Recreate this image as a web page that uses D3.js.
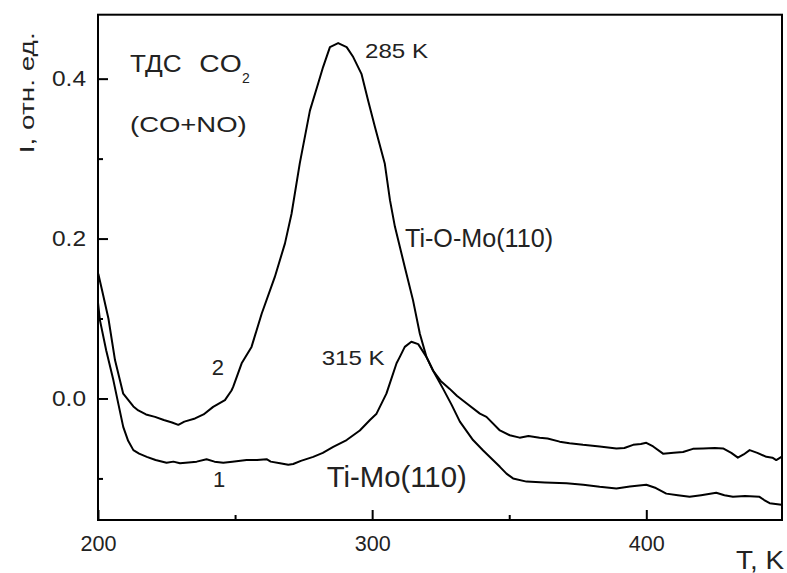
<!DOCTYPE html>
<html>
<head>
<meta charset="utf-8">
<script src="https://cdn.jsdelivr.net/npm/d3@7"></script>
<style>
  body { margin: 0; background: #fff; }
  svg { display: block; font-family: "Liberation Sans", Arial, sans-serif; }
  .lbl { fill: #222; }
</style>
</head>
<body>
<svg id="chart" width="787" height="573"></svg>
<script>
// Curve 2: Ti-O-Mo(110)
const tempsTiOMo = [200.1, 201.5, 203.8, 206.2, 209.2, 212.9, 214.7, 217.5, 220.8, 224.0, 227.0, 229.3, 231.5,
    235.4, 238.5, 242.0, 246.3, 248.7, 249.3, 252.4, 256.0, 259.7, 264.5, 268.2, 270.6, 273.6, 277.3, 280.3,
    282.1, 284.6, 287.6, 290.7, 293.1, 296.1, 298.5, 301.0, 304.6, 306.5, 308.3, 311.9, 314.9, 317.4, 319.8,
    322.2, 325.0, 328.3, 331.0, 334.4, 339.3, 341.7, 346.6, 350.2, 353.8, 357.0, 361.1, 364.0, 368.4, 372.0,
    376.9, 383.0, 389.1, 392.0, 395.2, 398.0, 400.0, 402.5, 406.1, 410.0, 413.4, 417.0, 420.7, 425.0, 428.0,
    431.0, 433.4, 435.5, 437.7, 440.5, 443.8, 446.0, 447.4, 449.3];
const valsTiOMo = [0.156, 0.135, 0.100, 0.048, 0.006, -0.010, -0.015, -0.020, -0.023, -0.027, -0.030, -0.033, -0.029,
    -0.025, -0.020, -0.0105, -0.002, 0.010, 0.0145, 0.044, 0.0645, 0.106, 0.152, 0.194, 0.231, 0.294, 0.360, 0.394,
    0.4145, 0.4395, 0.4445, 0.4395, 0.427, 0.406, 0.373, 0.340, 0.294, 0.248, 0.215, 0.1645, 0.123, 0.081, 0.052,
    0.035, 0.022, 0.012, 0.003, -0.006, -0.019, -0.023, -0.040, -0.046, -0.049, -0.047, -0.049, -0.050, -0.054, -0.056,
    -0.058, -0.060, -0.0625, -0.062, -0.058, -0.057, -0.0555, -0.060, -0.069, -0.068, -0.067, -0.063, -0.0625, -0.062, -0.0625,
    -0.068, -0.074, -0.070, -0.0646, -0.068, -0.073, -0.074, -0.077, -0.073];

// Curve 1: Ti-Mo(110)
const tempsTiMo = [200.0, 200.7, 203.0, 205.6, 207.5, 209.2, 211.0, 212.9, 215.0, 217.8, 221.0, 225.0, 227.5,
    229.9, 233.0, 236.0, 239.6, 242.5, 245.7, 249.0, 254.2, 258.0, 261.5, 263.0, 266.4, 269.4, 271.2, 274.0,
    278.5, 282.0, 285.8, 290.7, 295.5, 299.2, 301.6, 305.2, 308.9, 310.1, 311.9, 314.3, 316.8, 319.8, 322.5,
    325.9, 329.0, 332.0, 336.8, 340.5, 343.5, 346.6, 349.0, 351.4, 356.3, 363.0, 370.9, 377.0, 383.0, 389.1,
    394.0, 400.0, 403.5, 407.3, 411.5, 415.8, 420.0, 425.5, 428.5, 431.6, 436.0, 441.3, 443.0, 445.0, 449.3];
const valsTiMo = [0.120, 0.098, 0.060, 0.023, -0.008, -0.0355, -0.053, -0.0646, -0.069, -0.073, -0.077, -0.0805, -0.079,
    -0.081, -0.080, -0.079, -0.076, -0.079, -0.0805, -0.079, -0.077, -0.077, -0.076, -0.079, -0.081, -0.083, -0.082, -0.078,
    -0.073, -0.068, -0.0605, -0.052, -0.040, -0.027, -0.019, 0.006, 0.044, 0.052, 0.0645, 0.071, 0.068, 0.052, 0.033,
    0.012, -0.008, -0.029, -0.052, -0.065, -0.075, -0.0855, -0.094, -0.100, -0.104, -0.105, -0.106, -0.108, -0.1105, -0.1125,
    -0.110, -0.108, -0.112, -0.119, -0.121, -0.123, -0.121, -0.118, -0.121, -0.123, -0.122, -0.123, -0.127, -0.131, -0.133];

const xMajor = [200, 300, 400];
const xMinor = [250, 350];
const yMajor = [0.0, 0.2, 0.4];
const yMinor = [-0.1, 0.1, 0.3];

const svg = d3.select('#chart');
const m = { left: 98, right: 782, top: 14.7, bottom: 520 };

const x = d3.scaleLinear().domain([200, 449.5]).range([m.left, m.right]);
const y = d3.scaleLinear().domain([-0.152, 0.48]).range([m.bottom, m.top]);

svg.append('clipPath').attr('id', 'plot')
    .append('rect')
    .attr('x', m.left).attr('y', m.top)
    .attr('width', m.right - m.left).attr('height', m.bottom - m.top);

const line = d3.line().x(d => x(d[0])).y(d => y(d[1]));

const series = [
    d3.zip(tempsTiOMo, valsTiOMo),
    d3.zip(tempsTiMo, valsTiMo),
];

svg.append('g').attr('clip-path', 'url(#plot)')
    .selectAll('path')
    .data(series)
    .join('path')
    .attr('d', line)
    .attr('fill', 'none')
    .attr('stroke', '#000')
    .attr('stroke-width', 2)
    .attr('stroke-linejoin', 'round');

// Axes: ticks pointing inward
function styleAxis(g) {
    g.select('.domain').remove();
    g.selectAll('line').attr('stroke', '#000').attr('stroke-width', 2);
    g.selectAll('text').attr('class', 'lbl').attr('font-size', 22)
        .attr('font-family', '"Liberation Sans", Arial, sans-serif')
        .attr('textLength', function () { return this.textContent.length * 12; })
        .attr('lengthAdjust', 'spacingAndGlyphs');
}

svg.append('g').attr('transform', `translate(0,${m.bottom})`)
    .call(d3.axisBottom(x).tickValues(xMajor).tickSize(-10).tickSizeOuter(0).tickPadding(15).tickFormat(d3.format('d')))
    .call(styleAxis);
svg.append('g').attr('transform', `translate(0,${m.bottom})`)
    .call(d3.axisBottom(x).tickValues(xMinor).tickSize(-5).tickSizeOuter(0).tickFormat(''))
    .call(styleAxis);

svg.append('g').attr('transform', `translate(${m.left},0)`)
    .call(d3.axisLeft(y).tickValues(yMajor).tickSize(-10).tickSizeOuter(0).tickPadding(12).tickFormat(d3.format('.1f')))
    .call(styleAxis)
    .call(g => g.selectAll('text').attr('textLength', 34));
svg.append('g').attr('transform', `translate(${m.left},0)`)
    .call(d3.axisLeft(y).tickValues(yMinor).tickSize(-5).tickSizeOuter(0).tickFormat(''))
    .call(styleAxis);

// Frame
svg.append('rect')
    .attr('x', m.left).attr('y', m.top)
    .attr('width', m.right - m.left).attr('height', m.bottom - m.top)
    .attr('fill', 'none').attr('stroke', '#000').attr('stroke-width', 2);

// Labels
function label(txt, px, py, size, len) {
    const t = svg.append('text').attr('class', 'lbl')
        .attr('x', px).attr('y', py).attr('font-size', size)
        .text(txt);
    if (len) t.attr('textLength', len).attr('lengthAdjust', 'spacingAndGlyphs');
    return t;
}

label('ТДС', 130, 71.7, 23, 51.7);
label('CO', 199.3, 71.7, 23, 42.4);
label('2', 242, 83, 14);
label('(CO+NO)', 130, 131.7, 22, 116.7);
label('285 K', 365, 58.3, 21, 63);
label('Ti-O-Mo(110)', 405, 246.7, 25, 148);
label('315 K', 321.7, 365, 21, 63);
label('Ti-Mo(110)', 326.7, 486.7, 29, 140);
label('2', 211.7, 375, 22);
label('1', 213, 486.7, 22);
label('T, K', 784, 569, 25, 48).attr('text-anchor', 'end');

svg.append('text').attr('class', 'lbl')
    .attr('transform', 'translate(33.5,153.3) rotate(-90)')
    .attr('font-size', 21)
    .attr('textLength', 121).attr('lengthAdjust', 'spacingAndGlyphs')
    .text('I, отн. ед.');
</script>
</body>
</html>
